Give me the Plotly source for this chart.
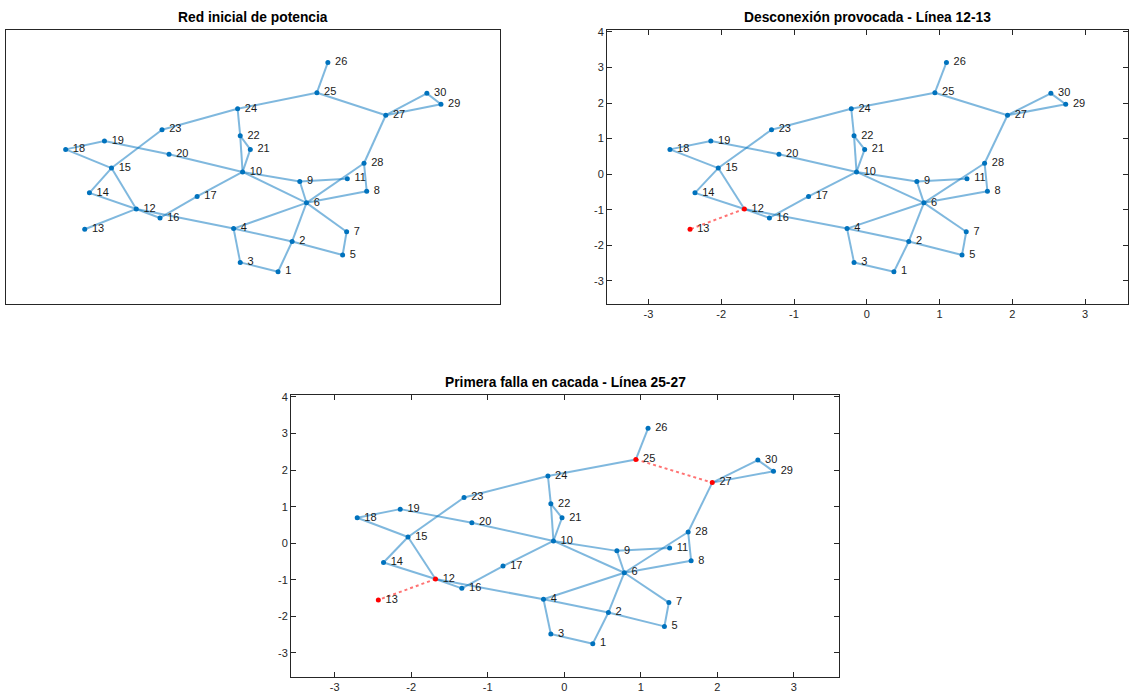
import plotly.graph_objects as go

# Node coordinates (IEEE 30-bus layout)
node_ids = list(range(1, 31))
node_x = [0.373, 0.577, -0.175, -0.271, 1.309, 0.785, 1.367, 1.658, 0.688, -0.141,
          1.377, -1.682, -2.429, -2.361, -2.041, -1.338, -0.800, -2.705, -2.143, -1.207,
          -0.029, -0.175, -1.309, -0.213, 0.936, 1.095, 1.934, 1.619, 2.734, 2.530]
node_y = [-2.745, -1.893, -2.482, -1.531, -2.273, -0.806, -1.621, -0.480, -0.208, 0.063,
          -0.127, -0.978, -1.549, -0.525, 0.172, -1.232, -0.625, 0.697, 0.933, 0.562,
          0.697, 1.078, 1.250, 1.839, 2.292, 3.143, 1.658, 0.308, 1.966, 2.274]

edge_from = [1, 1, 2, 3, 2, 2, 4, 5, 6, 6, 6, 6, 9, 9, 4, 12, 12, 12, 12, 14, 16,
             15, 18, 19, 10, 10, 10, 10, 21, 15, 22, 23, 24, 25, 25, 28, 27, 27, 29, 8, 6]
edge_to = [2, 3, 4, 4, 5, 6, 6, 7, 7, 8, 9, 10, 11, 10, 12, 13, 14, 15, 16, 15, 17,
           18, 19, 20, 20, 17, 21, 22, 22, 23, 24, 24, 25, 26, 27, 27, 29, 30, 30, 28, 28]

titles = ["Red inicial de potencia",
          "Desconexión provocada - Línea 12-13",
          "Primera falla en cacada - Línea 25-27"]
removed_edges = [[], [(12, 13)], [(12, 13), (25, 27)]]

x_range = [-3.57, 3.59]
y_range = [-3.66, 4.06]
x_ticks = [-3, -2, -1, 0, 1, 2, 3]
y_ticks = [-3, -2, -1, 0, 1, 2, 3, 4]
x_tick_labels = ["-3", "-2", "-1", "0", "1", "2", "3"]
y_tick_labels = ["-3", "-2", "-1", "0", "1", "2", "3", "4"]

W, H = 1129, 700
boxes = [  # left, right, top, bottom in px
    (6, 500, 26, 302),
    (607, 1128, 26, 302),
    (291, 839, 393, 677),
]
show_ticks = [False, True, True]

BLUE = "#0072BD"
FONT = "Arial, Liberation Sans, Helvetica, sans-serif"

fig = go.Figure()
annotations = []
for k in range(3):
    sfx = "" if k == 0 else str(k + 1)
    xa, ya = "x" + sfx, "y" + sfx
    rem = set(tuple(sorted(e)) for e in removed_edges[k])
    ex, ey, rx, ry = [], [], [], []
    for a, b in zip(edge_from, edge_to):
        tx = [node_x[a - 1], node_x[b - 1], None]
        ty = [node_y[a - 1], node_y[b - 1], None]
        if tuple(sorted((a, b))) in rem:
            rx += tx
            ry += ty
        else:
            ex += tx
            ey += ty
    fig.add_trace(go.Scatter(x=ex, y=ey, mode="lines", xaxis=xa, yaxis=ya,
                             line=dict(color="rgba(0,114,189,0.5)", width=2),
                             hoverinfo="skip", showlegend=False))
    if rx:
        fig.add_trace(go.Scatter(x=rx, y=ry, mode="lines", xaxis=xa, yaxis=ya,
                                 line=dict(color="rgba(255,0,0,0.55)", width=2, dash="dot"),
                                 hoverinfo="skip", showlegend=False))
    red_nodes = set(n for e in removed_edges[k] for n in e)
    colors = ["#FF0000" if n in red_nodes else BLUE for n in node_ids]
    fig.add_trace(go.Scatter(x=node_x, y=node_y, mode="markers+text", xaxis=xa, yaxis=ya,
                             marker=dict(color=colors, size=5),
                             text=[" " + str(n) for n in node_ids],
                             textposition="middle right",
                             textfont=dict(family=FONT, size=11, color="#1a1a1a"),
                             showlegend=False))
    l, r, t, b = boxes[k]
    dom_x = [l / W, r / W]
    dom_y = [1 - b / H, 1 - t / H]
    axis_common = dict(showgrid=False, zeroline=False, showline=True, linecolor="#262626",
                       linewidth=1, mirror="allticks" if show_ticks[k] else True)
    fig.update_layout(**{
        ("xaxis" + sfx): dict(domain=dom_x, range=x_range, anchor=ya,
                              tickvals=x_ticks if show_ticks[k] else [],
                              ticktext=x_tick_labels if show_ticks[k] else [],
                              ticks="inside" if show_ticks[k] else "", ticklen=5,
                              tickcolor="#262626",
                              showticklabels=show_ticks[k],
                              tickfont=dict(family=FONT, size=11, color="#262626"),
                              **axis_common),
        ("yaxis" + sfx): dict(domain=dom_y, range=y_range, anchor=xa,
                              tickvals=y_ticks if show_ticks[k] else [],
                              ticktext=y_tick_labels if show_ticks[k] else [],
                              ticks="inside" if show_ticks[k] else "", ticklen=5,
                              tickcolor="#262626",
                              showticklabels=show_ticks[k],
                              tickfont=dict(family=FONT, size=11, color="#262626"),
                              **axis_common),
    })
    annotations.append(dict(text="<b>" + titles[k] + "</b>", xref="paper", yref="paper",
                            x=(l + r) / 2 / W, y=1 - (t - 3) / H, xanchor="center",
                            yanchor="bottom", showarrow=False,
                            font=dict(family=FONT, size=13.8, color="#000000")))

fig.update_layout(width=W, height=H, margin=dict(l=0, r=0, t=0, b=0),
                  paper_bgcolor="white", plot_bgcolor="white",
                  annotations=annotations)
fig.write_html("out.html", config={"displayModeBar": False},
               post_script="document.body.style.margin='0';document.body.style.padding='0';")
